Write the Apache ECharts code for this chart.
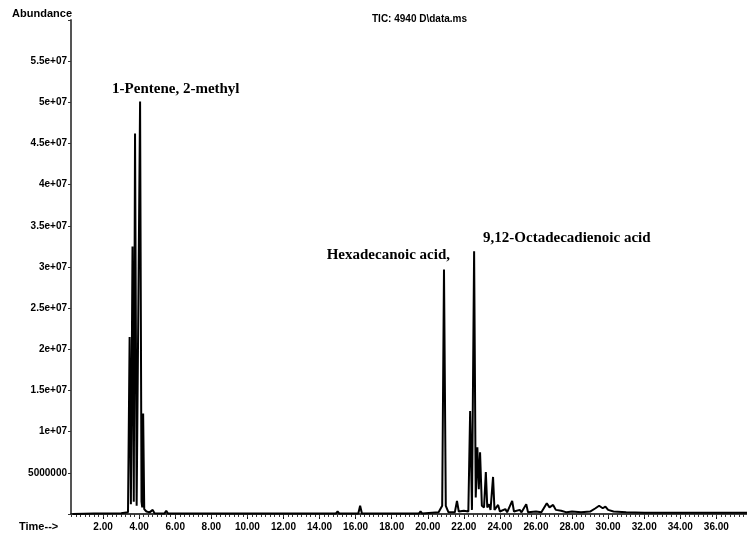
<!DOCTYPE html>
<html>
<head>
<meta charset="utf-8">
<script src="https://cdn.jsdelivr.net/npm/echarts@6/dist/echarts.min.js"></script>
<style>
html,body{margin:0;padding:0;background:#fff;}
#chart{width:747px;height:537px;}
</style>
</head>
<body>
<div id="chart"></div>
<script>
// Retention time (min) of trace points
const traceTime = [
  0.30, 1.50, 3.00, 3.38, 3.47, 3.54, 3.63, 3.70, 3.77, 3.86, 3.94, 4.05, 4.13, 4.17, 4.22, 4.28,
  4.40, 4.50, 4.58, 4.75, 4.85, 5.40, 5.50, 5.60, 14.90, 15.00, 15.10, 16.15, 16.25, 16.35,
  18.40, 18.50, 18.60, 19.50, 19.60, 19.70, 20.60, 20.80, 20.90, 21.00, 21.15, 21.50, 21.62,
  21.72, 22.00, 22.25, 22.35, 22.45, 22.57, 22.66, 22.75, 22.83, 22.90, 23.00, 23.12, 23.22,
  23.30, 23.40, 23.48, 23.62, 23.70, 23.90, 24.00, 24.30, 24.40, 24.68, 24.78, 25.10, 25.20,
  25.46, 25.56, 26.00, 26.30, 26.60, 26.75, 26.95, 27.10, 27.40, 27.70, 28.00, 28.50, 29.00,
  29.30, 29.50, 29.70, 29.85, 30.00, 30.30, 31.00, 32.00, 37.70
];
// Abundance at each trace point
const traceAbundance = [
  0, 50000, 100000, 200000, 21500000, 1200000, 32500000, 1500000, 46200000, 1000000, 800000, 50100000, 1500000, 800000, 12200000, 600000,
  300000, 500000, 200000, 500000, 100000, 50000, 400000, 50000, 50000, 300000, 50000, 50000, 1000000, 50000,
  50000, 250000, 50000, 50000, 300000, 50000, 200000, 1000000, 29700000, 1000000, 200000, 200000, 1600000,
  300000, 400000, 300000, 12500000, 500000, 31900000, 2000000, 8100000, 3000000, 7500000, 1000000, 800000, 5100000,
  800000, 1200000, 500000, 4500000, 500000, 1100000, 300000, 600000, 200000, 1600000, 300000, 500000, 200000,
  1200000, 200000, 300000, 200000, 1300000, 800000, 1100000, 500000, 400000, 200000, 300000, 200000, 300000,
  700000, 1000000, 700000, 900000, 500000, 300000, 200000, 150000, 150000
];
// Annotated peaks
const peakNames = ['1-Pentene, 2-methyl', 'Hexadecanoic acid,', '9,12-Octadecadienoic acid'];
const peakTime = [4.05, 20.90, 22.57];
const peakAbundance = [50100000, 29700000, 31900000];
// Tick labels
const xTickValues = [2, 4, 6, 8, 10, 12, 14, 16, 18, 20, 22, 24, 26, 28, 30, 32, 34, 36];
const yTickLabels = ['', '5000000', '1e+07', '1.5e+07', '2e+07', '2.5e+07', '3e+07', '3.5e+07', '4e+07', '4.5e+07', '5e+07', '5.5e+07', ''];

const X_MIN = 0.22, X_MAX = 37.7;
const minorTicks = [];
for (let v = 0.25; v < X_MAX; v += 0.25) minorTicks.push(+v.toFixed(2));

const traceData = traceTime.map((t, i) => [t, traceAbundance[i]]);
const labelCfg = [
  {position: [-28, -12], align: 'left'},
  {position: [6, -14], align: 'right'},
  {position: [9, -13], align: 'left'}
];
const labelData = peakTime.map((t, i) => ({
  value: [t, peakAbundance[i]],
  label: {
    show: true, formatter: peakNames[i], position: labelCfg[i].position,
    align: labelCfg[i].align, verticalAlign: 'middle'
  }
}));

const sansFont = "'Liberation Sans Narrow', 'Liberation Sans', Arial, sans-serif";
const chart = echarts.init(document.getElementById('chart'), null, {renderer: 'canvas'});
chart.setOption({
  animation: false,
  backgroundColor: '#fff',
  title: [
    {text: 'TIC: 4940 D\\data.ms', left: 367, top: 9,
     textStyle: {fontSize: 10, fontWeight: 'bold', color: '#000', fontFamily: sansFont}},
    {text: 'Time-->', left: 14, top: 516,
     textStyle: {fontSize: 11, fontWeight: 'bold', color: '#000', fontFamily: sansFont}}
  ],
  grid: {left: 71, right: 0, top: 20, bottom: 23, containLabel: false},
  xAxis: [
    {
      type: 'value', min: X_MIN, max: X_MAX,
      axisLine: {show: true, lineStyle: {color: '#000', width: 1.5}},
      axisTick: {show: true, customValues: xTickValues, length: 5, lineStyle: {color: '#111', width: 1}},
      axisLabel: {show: true, customValues: xTickValues, formatter: v => v.toFixed(2), margin: 8,
        fontSize: 10, fontWeight: 'bold', color: '#000', fontFamily: sansFont},
      splitLine: {show: false}
    },
    {
      type: 'value', min: X_MIN, max: X_MAX, position: 'bottom',
      axisLine: {show: false},
      axisTick: {show: true, customValues: minorTicks, length: 3, lineStyle: {color: '#333', width: 1}},
      axisLabel: {show: false},
      splitLine: {show: false}
    }
  ],
  yAxis: {
    type: 'value', min: 0, max: 60000000, interval: 5000000,
    name: 'Abundance', nameLocation: 'end', nameGap: 6,
    nameTextStyle: {align: 'right', verticalAlign: 'middle', fontSize: 11, fontWeight: 'bold', color: '#000', fontFamily: sansFont, padding: [0, -1, 0, 0]},
    axisLine: {show: true, lineStyle: {color: '#555', width: 2}},
    axisTick: {show: true, length: 3, lineStyle: {color: '#333'}},
    axisLabel: {formatter: v => yTickLabels[Math.round(v / 5000000)] || '', margin: 4,
      fontSize: 10, fontWeight: 'bold', color: '#000', fontFamily: sansFont},
    splitLine: {show: false}
  },
  series: [
    {
      type: 'line', xAxisIndex: 0, data: traceData, showSymbol: false, symbol: 'none',
      lineStyle: {color: '#000', width: 2}, z: 3
    },
    {
      type: 'scatter', xAxisIndex: 0, data: labelData, symbolSize: 0, silent: true,
      itemStyle: {opacity: 1, color: '#000'},
      label: {fontFamily: "'Liberation Serif', 'Times New Roman', serif", fontWeight: 'bold', fontSize: 15, color: '#000', opacity: 1},
      z: 4
    }
  ]
});
</script>
</body>
</html>
